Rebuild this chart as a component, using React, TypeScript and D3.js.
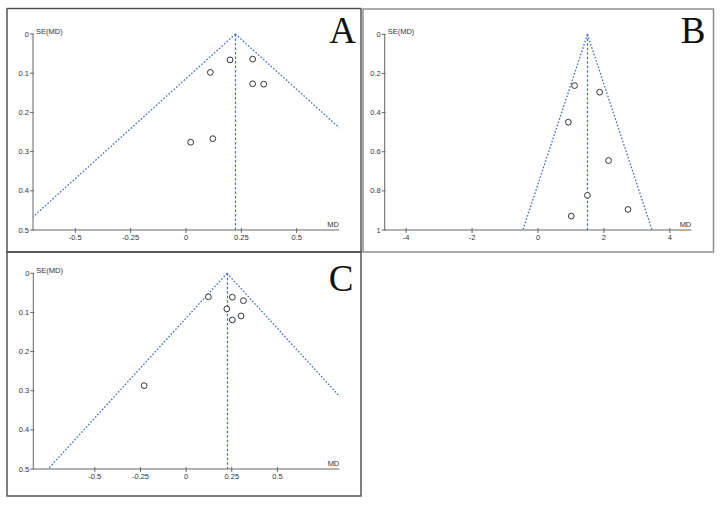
import React from 'react';
import * as d3 from 'd3';

// study estimates (mean difference) and their standard errors
const mdA = [0.199, 0.301, 0.11, 0.301, 0.351, 0.121, 0.021];
const seA = [0.066, 0.064, 0.098, 0.127, 0.128, 0.267, 0.276];
const pooledA = 0.223;

const mdB = [1.11, 1.87, 0.92, 2.14, 1.5, 2.73, 1.01];
const seB = [0.262, 0.296, 0.449, 0.645, 0.823, 0.895, 0.929];
const pooledB = 1.5;

const mdC = [0.122, 0.253, 0.314, 0.223, 0.301, 0.253, -0.23];
const seC = [0.06, 0.061, 0.07, 0.091, 0.109, 0.119, 0.287];
const pooledC = 0.224;

const xTicksSmall = [-0.5, -0.25, 0, 0.25, 0.5];
const xTicksB = [-4, -2, 0, 2, 4];
const yTicksSmall = [0, 0.1, 0.2, 0.3, 0.4, 0.5];
const yTicksB = [0, 0.2, 0.4, 0.6, 0.8, 1];

interface PanelProps {
  id: string;
  label: string;
  md: number[];
  se: number[];
  pooled: number;
  xDomain: [number, number];
  yDomain: [number, number];
  xTicks: number[];
  yTicks: number[];
  box: { x: number; y: number; w: number; h: number; stroke: string };
  plot: { left: number; right: number; top: number; bottom: number };
  letter: { x: number; y: number };
}

const tickFont = '"Liberation Sans", Arial, sans-serif';
const funnelBlue = '#3b6ccc';

const FunnelPanel = (p: PanelProps) => {
  const x = d3.scaleLinear().domain(p.xDomain).range([p.plot.left, p.plot.right]);
  const y = d3.scaleLinear().domain(p.yDomain).range([p.plot.top, p.plot.bottom]);
  const seMax = p.yDomain[1];

  // 95% pseudo-confidence limits around the pooled estimate
  const limits = d3.line<[number, number]>()
    .x(d => x(d[0]))
    .y(d => y(d[1]));
  const leftLimit = limits([[p.pooled, 0], [p.pooled - 1.96 * seMax, seMax]]) || '';
  const rightLimit = limits([[p.pooled, 0], [p.pooled + 1.96 * seMax, seMax]]) || '';
  const clipId = `clip-${p.id}`;
  const px = Math.round(x(p.pooled)) + 0.5;

  return (
    <g>
      <rect x={p.box.x} y={p.box.y} width={p.box.w} height={p.box.h}
        fill="none" stroke={p.box.stroke} strokeWidth={1.4} />
      <defs>
        <clipPath id={clipId}>
          <rect x={p.plot.left} y={p.plot.top - 2} width={p.plot.right - p.plot.left}
            height={p.plot.bottom - p.plot.top + 2} />
        </clipPath>
      </defs>

      {/* axes */}
      <line x1={p.plot.left} x2={p.plot.left} y1={p.plot.top} y2={p.plot.bottom} stroke="#666" strokeWidth={1} />
      <line x1={p.plot.left} x2={p.plot.right} y1={p.plot.bottom} y2={p.plot.bottom} stroke="#666" strokeWidth={1} />

      {p.yTicks.map(t => (
        <g key={`y${t}`}>
          <line x1={p.plot.left - 3} x2={p.plot.left + 1} y1={y(t)} y2={y(t)} stroke="#666" />
          <text x={p.plot.left - 4} y={y(t)} dy="0.35em" textAnchor="end"
            fontFamily={tickFont} fontSize={7.5} fill="#333">{String(t)}</text>
        </g>
      ))}
      {p.xTicks.map(t => (
        <g key={`x${t}`}>
          <line x1={x(t)} x2={x(t)} y1={p.plot.bottom - 2} y2={p.plot.bottom + 3} stroke="#666" />
          <text x={x(t)} y={p.plot.bottom + 10} textAnchor="middle"
            fontFamily={tickFont} fontSize={7.5} fill="#333">{String(t)}</text>
        </g>
      ))}
      <text x={p.plot.left + 3} y={p.plot.top} fontFamily={tickFont} fontSize={7.5} fill="#333">SE(MD)</text>
      <text x={p.plot.right} y={p.plot.bottom - 3} textAnchor="end" fontFamily={tickFont} fontSize={7.5} fill="#333">MD</text>

      {/* funnel and pooled estimate */}
      <g clipPath={`url(#${clipId})`}>
        <path d={leftLimit} fill="none" stroke={funnelBlue} strokeWidth={1.3} strokeDasharray="1.6,1.8" />
        <path d={rightLimit} fill="none" stroke={funnelBlue} strokeWidth={1.3} strokeDasharray="1.6,1.8" />
      </g>
      <line x1={px} x2={px} y1={y(0)} y2={y(seMax)}
        stroke={funnelBlue} strokeWidth={1.2} strokeDasharray="2.5,2" />

      {p.md.map((m, i) => (
        <circle key={i} cx={x(m)} cy={y(p.se[i])} r={2.9} fill="#fff" stroke="#333" strokeWidth={1} />
      ))}

      <text x={p.letter.x} y={p.letter.y} textAnchor="end"
        fontFamily='"Liberation Serif", "Times New Roman", serif' fontSize={37} fill="#111">{p.label}</text>
    </g>
  );
};

const App = () => (
  <svg width={723} height={505} style={{ position: 'absolute', left: 0, top: 0, background: '#fff' }}>
    <FunnelPanel id="a" label="A" md={mdA} se={seA} pooled={pooledA}
      xDomain={[-0.691, 0.691]} yDomain={[0, 0.5]} xTicks={xTicksSmall} yTicks={yTicksSmall}
      box={{ x: 7, y: 8.5, w: 354, h: 243.5, stroke: '#4a4a4a' }}
      plot={{ left: 33, right: 339, top: 34, bottom: 230 }}
      letter={{ x: 356, y: 43 }} />
    <FunnelPanel id="b" label="B" md={mdB} se={seB} pooled={pooledB}
      xDomain={[-4.65, 4.65]} yDomain={[0, 1]} xTicks={xTicksB} yTicks={yTicksB}
      box={{ x: 363, y: 9, w: 350.5, h: 243, stroke: '#888' }}
      plot={{ left: 384.7, right: 691.3, top: 34.3, bottom: 230 }}
      letter={{ x: 705.5, y: 43 }} />
    <FunnelPanel id="c" label="C" md={mdC} se={seC} pooled={pooledC}
      xDomain={[-0.837, 0.839]} yDomain={[0, 0.5]} xTicks={xTicksSmall} yTicks={yTicksSmall}
      box={{ x: 7, y: 252, w: 354, h: 244, stroke: '#4a4a4a' }}
      plot={{ left: 33.3, right: 339.3, top: 273.3, bottom: 469 }}
      letter={{ x: 353.5, y: 290.5 }} />
  </svg>
);

export default App;
